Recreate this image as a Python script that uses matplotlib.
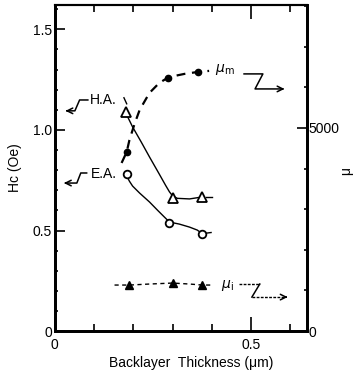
"""Coercivity Hc and permeability vs backlayer thickness (scanned figure redraw)."""

import matplotlib

matplotlib.use("Agg")
import matplotlib.pyplot as plt
from matplotlib.ticker import FixedLocator, MultipleLocator

plt.rcParams["font.family"] = ["Liberation Sans", "DejaVu Sans"]
plt.rcParams["font.size"] = 10

# measured points
ha_x = [0.180, 0.300, 0.376]
ha_hc = [1.09, 0.66, 0.665]
ea_x = [0.183, 0.292, 0.376]
ea_hc = [0.78, 0.537, 0.483]
mum_x = [0.183, 0.287, 0.365]
mum_mu = [4410, 6230, 6380]
mui_x = [0.190, 0.300, 0.376]
mui_mu = [1133, 1182, 1133]

# hand-drawn guide curves
ha_curve_x = [0.183, 0.198, 0.220, 0.241, 0.265, 0.282, 0.292, 0.300, 0.312, 0.343, 0.376]
ha_curve_hc = [1.075, 1.015, 0.94, 0.866, 0.784, 0.725, 0.692, 0.672, 0.660, 0.657, 0.667]
ea_curve_x = [0.183, 0.190, 0.198, 0.216, 0.241, 0.262, 0.279, 0.292, 0.317, 0.343, 0.363, 0.376]
ea_curve_hc = [0.771, 0.745, 0.721, 0.686, 0.642, 0.600, 0.567, 0.542, 0.532, 0.517, 0.502, 0.483]
mum_curve_x = [0.170, 0.183, 0.190, 0.203, 0.216, 0.241, 0.266, 0.287, 0.310, 0.330, 0.365, 0.393]
mum_curve_mu = [4138, 4409, 4704, 5100, 5443, 5862, 6108, 6232, 6290, 6330, 6379, 6404]
mui_curve_x = [0.152, 0.190, 0.241, 0.300, 0.343, 0.376, 0.398]
mui_curve_mu = [1133, 1133, 1158, 1182, 1158, 1133, 1133]

hc_ticks = [0, 0.5, 1.0, 1.5]
hc_labels = ["0", "0.5", "1.0", "1.5"]
mu_ticks = [0, 5000]
mu_labels = ["0", "5000"]
x_ticks = [0, 0.5]
x_labels = ["0", "0.5"]

fig = plt.figure(figsize=(3.61, 3.72), dpi=100)
ax = fig.add_axes([0.152, 0.110, 0.698, 0.877])
ax2 = ax.twinx()

ax.set_xlim(0, 0.642)
ax.set_ylim(0, 1.622)
ax2.set_ylim(0, 8030)

# curves
ax.plot(ha_curve_x, ha_curve_hc, color="black", lw=1.0)
ax.plot(ea_curve_x, ea_curve_hc, color="black", lw=1.0)
ax.plot([0.385, 0.400], [0.667, 0.667], color="black", lw=1.0)
ax.plot([0.386, 0.398], [0.487, 0.490], color="black", lw=1.0)
ax2.plot(mum_curve_x, mum_curve_mu, color="black", lw=1.6, dashes=(4, 3))
ax2.plot(mui_curve_x, mui_curve_mu, color="black", lw=1.0, dashes=(3, 2.5))

# markers
ax.plot(ha_x, ha_hc, ls="none", marker="^", ms=7, mfc="white", mec="black", mew=1.3)
ax.plot(ea_x, ea_hc, ls="none", marker="o", ms=5.5, mfc="white", mec="black", mew=1.3)
ax2.plot(mum_x, mum_mu, ls="none", marker="o", ms=4.5, color="black")
ax2.plot(mui_x, mui_mu, ls="none", marker="^", ms=5.5, color="black")

# labels with break arrows
ax.text(0.122, 1.149, "H.A.", ha="center", va="center", fontsize=10)
ax.plot([0.176, 0.183], [1.16, 1.13], color="black", lw=1.0)
ax.plot([0.084, 0.063, 0.051, 0.035], [1.149, 1.149, 1.095, 1.095], color="black", lw=1.1)
ax.annotate("", xy=(0.020, 1.095), xytext=(0.040, 1.095),
            arrowprops=dict(arrowstyle="->", lw=1.1, color="black"))

ax.text(0.124, 0.781, "E.A.", ha="center", va="center", fontsize=10)
ax.plot([0.081, 0.066, 0.056, 0.030], [0.786, 0.786, 0.736, 0.736], color="black", lw=1.1)
ax.annotate("", xy=(0.016, 0.736), xytext=(0.036, 0.736),
            arrowprops=dict(arrowstyle="->", lw=1.1, color="black"))

ax2.text(0.434, 6429, r"$\mu_{\rm m}$", ha="center", va="center", fontsize=10)
ax2.plot([0.482, 0.530, 0.510, 0.575], [6330, 6330, 5960, 5960], color="black", lw=1.1)
ax2.annotate("", xy=(0.592, 5960), xytext=(0.570, 5960),
             arrowprops=dict(arrowstyle="->", lw=1.1, color="black"))

ax2.text(0.439, 1133, r"$\mu_{\rm i}$", ha="center", va="center", fontsize=10)
ax2.plot([0.470, 0.522], [1158, 1158], color="black", lw=1.0, dashes=(2, 1))
ax2.plot([0.522, 0.502], [1158, 837], color="black", lw=1.1)
ax2.plot([0.502, 0.585], [837, 837], color="black", lw=1.0, dashes=(2, 1))
ax2.annotate("", xy=(0.600, 837), xytext=(0.580, 837),
             arrowprops=dict(arrowstyle="->", lw=1.1, color="black"))

# axes and ticks
ax.yaxis.set_major_locator(FixedLocator(hc_ticks))
ax.set_yticklabels(hc_labels)
ax.yaxis.set_minor_locator(MultipleLocator(0.1))
ax.xaxis.set_major_locator(FixedLocator(x_ticks))
ax.set_xticklabels(x_labels)
ax.xaxis.set_minor_locator(MultipleLocator(0.1))
ax2.yaxis.set_major_locator(FixedLocator(mu_ticks))
ax2.set_yticklabels(mu_labels)
ax2.yaxis.set_minor_locator(MultipleLocator(1000))

ax.tick_params(axis="both", which="major", direction="in", length=7, width=1.2, pad=2)
ax.tick_params(axis="x", which="major", pad=5, top=True, length=10)
ax.tick_params(axis="both", which="minor", direction="in", length=2.5, width=1.2)
ax.tick_params(axis="x", which="minor", top=True, length=5)
ax2.tick_params(axis="y", which="major", direction="in", length=7, width=1.2, pad=1)
ax2.tick_params(axis="y", which="minor", direction="in", length=2.5, width=1.2)

for side in ["left", "bottom", "right"]:
    ax.spines[side].set_linewidth(2.0)
    ax2.spines[side].set_linewidth(2.0)
ax.spines["top"].set_linewidth(1.5)
ax2.spines["top"].set_linewidth(1.5)

ax.set_ylabel("Hc (Oe)")
ax.yaxis.set_label_coords(-0.13, 0.5)
ax.set_xlabel("Backlayer  Thickness (\u03bcm)")
ax.xaxis.set_label_coords(0.54, -0.075)
ax2.set_ylabel("\u03bc")
ax2.yaxis.set_label_coords(1.13, 0.49)

fig.savefig("out.png", dpi=100)
